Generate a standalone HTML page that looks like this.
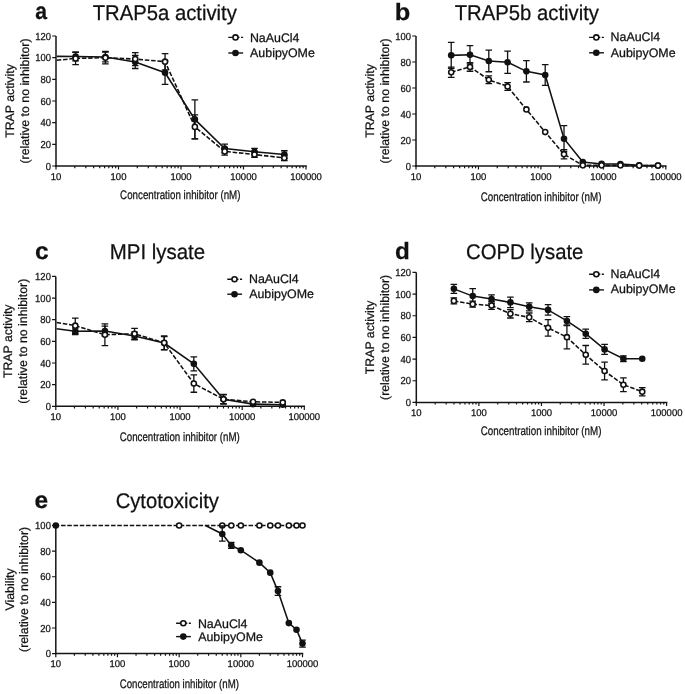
<!DOCTYPE html>
<html><head><meta charset="utf-8"><style>
html,body{margin:0;padding:0;background:#fff;}
svg{display:block;will-change:transform;}
text{text-rendering:geometricPrecision;font-family:"Liberation Sans", sans-serif;fill:#111;stroke:#111;stroke-width:0.25px;}
</style></head><body>
<svg width="685" height="694" viewBox="0 0 685 694">
<rect width="685" height="694" fill="#fff"/>
<text x="35.27" y="19.3" font-size="23.5" font-weight="bold" textLength="11.75" lengthAdjust="spacingAndGlyphs">a</text>
<text x="92.69" y="19.85" font-size="21.3" textLength="144.17" lengthAdjust="spacingAndGlyphs">TRAP5a activity</text>
<line x1="56" y1="36" x2="56" y2="166.75" stroke="#151515" stroke-width="1.5"/>
<line x1="55.25" y1="166" x2="306.75" y2="166" stroke="#151515" stroke-width="1.5"/>
<text transform="translate(51.1,169.6) scale(0.93,1)" font-size="10.2" text-anchor="end">0</text>
<text transform="translate(51.1,147.93) scale(0.93,1)" font-size="10.2" text-anchor="end">20</text>
<text transform="translate(51.1,126.27) scale(0.93,1)" font-size="10.2" text-anchor="end">40</text>
<text transform="translate(51.1,104.6) scale(0.93,1)" font-size="10.2" text-anchor="end">60</text>
<text transform="translate(51.1,82.93) scale(0.93,1)" font-size="10.2" text-anchor="end">80</text>
<text transform="translate(51.1,61.27) scale(0.93,1)" font-size="10.2" text-anchor="end">100</text>
<text transform="translate(51.1,39.6) scale(0.93,1)" font-size="10.2" text-anchor="end">120</text>
<text transform="translate(56,179.7) scale(0.97,1)" font-size="9.8" text-anchor="middle">10</text>
<text transform="translate(118.5,179.7) scale(0.97,1)" font-size="9.8" text-anchor="middle">100</text>
<text transform="translate(181,179.7) scale(0.97,1)" font-size="9.8" text-anchor="middle">1000</text>
<text transform="translate(243.5,179.7) scale(0.97,1)" font-size="9.8" text-anchor="middle">10000</text>
<text transform="translate(306,179.7) scale(0.97,1)" font-size="9.8" text-anchor="middle">100000</text>
<path d="M52.2 166H56 M52.2 144.33H56 M52.2 122.67H56 M52.2 101H56 M52.2 79.33H56 M52.2 57.67H56 M52.2 36H56 M56 166V169.6 M74.81 166V168.2 M85.82 166V168.2 M93.63 166V168.2 M99.69 166V168.2 M104.63 166V168.2 M108.82 166V168.2 M112.44 166V168.2 M115.64 166V168.2 M118.5 166V169.6 M137.31 166V168.2 M148.32 166V168.2 M156.13 166V168.2 M162.19 166V168.2 M167.13 166V168.2 M171.32 166V168.2 M174.94 166V168.2 M178.14 166V168.2 M181 166V169.6 M199.81 166V168.2 M210.82 166V168.2 M218.63 166V168.2 M224.69 166V168.2 M229.63 166V168.2 M233.82 166V168.2 M237.44 166V168.2 M240.64 166V168.2 M243.5 166V169.6 M262.31 166V168.2 M273.32 166V168.2 M281.13 166V168.2 M287.19 166V168.2 M292.13 166V168.2 M296.32 166V168.2 M299.94 166V168.2 M303.14 166V168.2 M306 166V169.6" stroke="#151515" stroke-width="1.2" fill="none"/>
<text transform="translate(13.6,101) rotate(-90)" font-size="12.3" text-anchor="middle">TRAP activity</text>
<text transform="translate(28.8,101) rotate(-90)" font-size="12.3" text-anchor="middle">(relative to no inhibitor)</text>
<text x="120.11" y="199.05" font-size="12.4" textLength="120.36" lengthAdjust="spacingAndGlyphs">Concentration inhibitor (nM)</text>
<path d="M228.3 37.4h14.8" stroke="#111" stroke-width="1.4" stroke-dasharray="4.6 2.4 4.2 1.5 2.2 10"/>
<circle cx="235.5" cy="37.4" r="2.55" fill="#fff" stroke="#111" stroke-width="1.55"/>
<path d="M228.3 53h14.8" stroke="#111" stroke-width="1.4"/>
<circle cx="235.5" cy="53" r="3.3" fill="#111"/>
<text x="249.91" y="41.7" font-size="12.4">NaAuCl4</text>
<text x="250.1" y="57.4" font-size="12.4">AubipyOMe</text>
<polyline points="56.8,56.37 75.59,56.58 105.41,57.02 135.23,62 165.05,72.72 194.87,119.42 224.69,148.56 254.51,151.7 284.33,154.52" fill="none" stroke="#111" stroke-width="1.55"/>
<polyline points="56.8,60.27 75.59,58.42 105.41,57.67 135.23,59.08 165.05,61.67 194.87,126.89 224.69,151.38 254.51,154.52 284.33,157.98" fill="none" stroke="#111" stroke-width="1.55" stroke-dasharray="4.5 1.8"/>
<path d="M75.59 52.25V60.92M72.29 52.25H78.89M72.29 60.92H78.89M105.41 52.14V61.89M102.11 52.14H108.71M102.11 61.89H108.71M135.23 55.5V68.5M131.93 55.5H138.53M131.93 68.5H138.53M165.05 61.02V84.42M161.75 61.02H168.35M161.75 84.42H168.35M194.87 99.92V138.92M191.57 99.92H198.17M191.57 138.92H198.17M224.69 144.22V152.89M221.39 144.22H227.99M221.39 152.89H227.99M254.51 148.45V154.95M251.21 148.45H257.81M251.21 154.95H257.81M284.33 150.73V158.31M281.03 150.73H287.63M281.03 158.31H287.63" stroke="#111" stroke-width="1.3" fill="none"/>
<path d="M75.59 52.14V64.71M72.29 52.14H78.89M72.29 64.71H78.89M105.41 51.49V63.84M102.11 51.49H108.71M102.11 63.84H108.71M135.23 52.58V65.58M131.93 52.58H138.53M131.93 65.58H138.53M165.05 53.55V69.8M161.75 53.55H168.35M161.75 69.8H168.35M194.87 114.97V138.81M191.57 114.97H198.17M191.57 138.81H198.17M224.69 147.58V155.17M221.39 147.58H227.99M221.39 155.17H227.99M254.51 151.81V157.23M251.21 151.81H257.81M251.21 157.23H257.81M284.33 155.27V160.69M281.03 155.27H287.63M281.03 160.69H287.63" stroke="#111" stroke-width="1.3" fill="none"/>
<circle cx="75.59" cy="56.58" r="3.3" fill="#111"/>
<circle cx="105.41" cy="57.02" r="3.3" fill="#111"/>
<circle cx="135.23" cy="62" r="3.3" fill="#111"/>
<circle cx="165.05" cy="72.72" r="3.3" fill="#111"/>
<circle cx="194.87" cy="119.42" r="3.3" fill="#111"/>
<circle cx="224.69" cy="148.56" r="3.3" fill="#111"/>
<circle cx="254.51" cy="151.7" r="3.3" fill="#111"/>
<circle cx="284.33" cy="154.52" r="3.3" fill="#111"/>
<circle cx="75.59" cy="58.42" r="2.55" fill="#fff" stroke="#111" stroke-width="1.55"/>
<circle cx="105.41" cy="57.67" r="2.55" fill="#fff" stroke="#111" stroke-width="1.55"/>
<circle cx="135.23" cy="59.08" r="2.55" fill="#fff" stroke="#111" stroke-width="1.55"/>
<circle cx="165.05" cy="61.67" r="2.55" fill="#fff" stroke="#111" stroke-width="1.55"/>
<circle cx="194.87" cy="126.89" r="2.55" fill="#fff" stroke="#111" stroke-width="1.55"/>
<circle cx="224.69" cy="151.38" r="2.55" fill="#fff" stroke="#111" stroke-width="1.55"/>
<circle cx="254.51" cy="154.52" r="2.55" fill="#fff" stroke="#111" stroke-width="1.55"/>
<circle cx="284.33" cy="157.98" r="2.55" fill="#fff" stroke="#111" stroke-width="1.55"/>
<text x="394.82" y="19.7" font-size="23.5" font-weight="bold" textLength="15.52" lengthAdjust="spacingAndGlyphs">b</text>
<text x="454.69" y="19.85" font-size="21.3" textLength="144.27" lengthAdjust="spacingAndGlyphs">TRAP5b activity</text>
<line x1="416" y1="36" x2="416" y2="166.75" stroke="#151515" stroke-width="1.5"/>
<line x1="415.25" y1="166" x2="666.55" y2="166" stroke="#151515" stroke-width="1.5"/>
<text transform="translate(411.1,169.6) scale(0.93,1)" font-size="10.2" text-anchor="end">0</text>
<text transform="translate(411.1,143.6) scale(0.93,1)" font-size="10.2" text-anchor="end">20</text>
<text transform="translate(411.1,117.6) scale(0.93,1)" font-size="10.2" text-anchor="end">40</text>
<text transform="translate(411.1,91.6) scale(0.93,1)" font-size="10.2" text-anchor="end">60</text>
<text transform="translate(411.1,65.6) scale(0.93,1)" font-size="10.2" text-anchor="end">80</text>
<text transform="translate(411.1,39.6) scale(0.93,1)" font-size="10.2" text-anchor="end">100</text>
<text transform="translate(416,179.7) scale(0.97,1)" font-size="9.8" text-anchor="middle">10</text>
<text transform="translate(478.45,179.7) scale(0.97,1)" font-size="9.8" text-anchor="middle">100</text>
<text transform="translate(540.9,179.7) scale(0.97,1)" font-size="9.8" text-anchor="middle">1000</text>
<text transform="translate(603.35,179.7) scale(0.97,1)" font-size="9.8" text-anchor="middle">10000</text>
<text transform="translate(665.8,179.7) scale(0.97,1)" font-size="9.8" text-anchor="middle">100000</text>
<path d="M412.2 166H416 M412.2 140H416 M412.2 114H416 M412.2 88H416 M412.2 62H416 M412.2 36H416 M416 166V169.6 M434.8 166V168.2 M445.8 166V168.2 M453.6 166V168.2 M459.65 166V168.2 M464.6 166V168.2 M468.78 166V168.2 M472.4 166V168.2 M475.59 166V168.2 M478.45 166V169.6 M497.25 166V168.2 M508.25 166V168.2 M516.05 166V168.2 M522.1 166V168.2 M527.05 166V168.2 M531.23 166V168.2 M534.85 166V168.2 M538.04 166V168.2 M540.9 166V169.6 M559.7 166V168.2 M570.7 166V168.2 M578.5 166V168.2 M584.55 166V168.2 M589.5 166V168.2 M593.68 166V168.2 M597.3 166V168.2 M600.49 166V168.2 M603.35 166V169.6 M622.15 166V168.2 M633.15 166V168.2 M640.95 166V168.2 M647 166V168.2 M651.95 166V168.2 M656.13 166V168.2 M659.75 166V168.2 M662.94 166V168.2 M665.8 166V169.6" stroke="#151515" stroke-width="1.2" fill="none"/>
<text transform="translate(373.8,101) rotate(-90)" font-size="12.3" text-anchor="middle">TRAP activity</text>
<text transform="translate(388.9,101) rotate(-90)" font-size="12.3" text-anchor="middle">(relative to no inhibitor)</text>
<text x="480.71" y="200.75" font-size="12.4" textLength="120.77" lengthAdjust="spacingAndGlyphs">Concentration inhibitor (nM)</text>
<path d="M589.1 37.4h14.8" stroke="#111" stroke-width="1.4" stroke-dasharray="4.6 2.4 4.2 1.5 2.2 10"/>
<circle cx="596.3" cy="37.4" r="2.55" fill="#fff" stroke="#111" stroke-width="1.55"/>
<path d="M589.1 52.8h14.8" stroke="#111" stroke-width="1.4"/>
<circle cx="596.3" cy="52.8" r="3.3" fill="#111"/>
<text x="610.61" y="41.2" font-size="12.4">NaAuCl4</text>
<text x="610.8" y="56.9" font-size="12.4">AubipyOMe</text>
<polyline points="451.21,55.37 470,54.72 488.8,60.96 507.6,62.26 526.4,71.36 545.2,75 564,138.7 582.8,162.1 601.6,163.92 620.4,164.05 639.2,165.35 658,165.61" fill="none" stroke="#111" stroke-width="1.55"/>
<polyline points="451.21,72.27 470,66.94 488.8,79.81 507.6,86.44 526.4,109.45 545.2,132.07 564,154.3 582.8,165.35 601.6,165.35 620.4,165.35 639.2,165.61 658,165.61" fill="none" stroke="#111" stroke-width="1.55" stroke-dasharray="4.5 1.8"/>
<path d="M451.21 42.37V68.37M447.91 42.37H454.51M447.91 68.37H454.51M470 45.62V63.82M466.7 45.62H473.3M466.7 63.82H473.3M488.8 50.17V71.75M485.5 50.17H492.1M485.5 71.75H492.1M507.6 51.21V73.31M504.3 51.21H510.9M504.3 73.31H510.9M526.4 60.7V82.02M523.1 60.7H529.7M523.1 82.02H529.7M545.2 64.6V85.4M541.9 64.6H548.5M541.9 85.4H548.5M564 125.7V151.7M560.7 125.7H567.3M560.7 151.7H567.3" stroke="#111" stroke-width="1.3" fill="none"/>
<path d="M451.21 67.07V77.47M447.91 67.07H454.51M447.91 77.47H454.51M470 62.65V71.23M466.7 62.65H473.3M466.7 71.23H473.3M488.8 75.91V83.71M485.5 75.91H492.1M485.5 83.71H492.1M507.6 82.54V90.34M504.3 82.54H510.9M504.3 90.34H510.9M564 149.75V158.85M560.7 149.75H567.3M560.7 158.85H567.3" stroke="#111" stroke-width="1.3" fill="none"/>
<circle cx="451.21" cy="55.37" r="3.3" fill="#111"/>
<circle cx="470" cy="54.72" r="3.3" fill="#111"/>
<circle cx="488.8" cy="60.96" r="3.3" fill="#111"/>
<circle cx="507.6" cy="62.26" r="3.3" fill="#111"/>
<circle cx="526.4" cy="71.36" r="3.3" fill="#111"/>
<circle cx="545.2" cy="75" r="3.3" fill="#111"/>
<circle cx="564" cy="138.7" r="3.3" fill="#111"/>
<circle cx="582.8" cy="162.1" r="3.3" fill="#111"/>
<circle cx="601.6" cy="163.92" r="3.3" fill="#111"/>
<circle cx="620.4" cy="164.05" r="3.3" fill="#111"/>
<circle cx="639.2" cy="165.35" r="3.3" fill="#111"/>
<circle cx="658" cy="165.61" r="3.3" fill="#111"/>
<circle cx="451.21" cy="72.27" r="2.55" fill="#fff" stroke="#111" stroke-width="1.55"/>
<circle cx="470" cy="66.94" r="2.55" fill="#fff" stroke="#111" stroke-width="1.55"/>
<circle cx="488.8" cy="79.81" r="2.55" fill="#fff" stroke="#111" stroke-width="1.55"/>
<circle cx="507.6" cy="86.44" r="2.55" fill="#fff" stroke="#111" stroke-width="1.55"/>
<circle cx="526.4" cy="109.45" r="2.55" fill="#fff" stroke="#111" stroke-width="1.55"/>
<circle cx="545.2" cy="132.07" r="2.55" fill="#fff" stroke="#111" stroke-width="1.55"/>
<circle cx="564" cy="154.3" r="2.55" fill="#fff" stroke="#111" stroke-width="1.55"/>
<circle cx="582.8" cy="165.35" r="2.55" fill="#fff" stroke="#111" stroke-width="1.55"/>
<circle cx="601.6" cy="165.35" r="2.55" fill="#fff" stroke="#111" stroke-width="1.55"/>
<circle cx="620.4" cy="165.35" r="2.55" fill="#fff" stroke="#111" stroke-width="1.55"/>
<circle cx="639.2" cy="165.61" r="2.55" fill="#fff" stroke="#111" stroke-width="1.55"/>
<circle cx="658" cy="165.61" r="2.55" fill="#fff" stroke="#111" stroke-width="1.55"/>
<text x="34.92" y="258.85" font-size="23.5" font-weight="bold" textLength="13.67" lengthAdjust="spacingAndGlyphs">c</text>
<text x="109.77" y="258.6" font-size="21.3" textLength="95.31" lengthAdjust="spacingAndGlyphs">MPI lysate</text>
<line x1="55.8" y1="276.4" x2="55.8" y2="407.05" stroke="#151515" stroke-width="1.5"/>
<line x1="55.05" y1="406.3" x2="305.05" y2="406.3" stroke="#151515" stroke-width="1.5"/>
<text transform="translate(50.9,409.9) scale(0.93,1)" font-size="10.2" text-anchor="end">0</text>
<text transform="translate(50.9,388.25) scale(0.93,1)" font-size="10.2" text-anchor="end">20</text>
<text transform="translate(50.9,366.6) scale(0.93,1)" font-size="10.2" text-anchor="end">40</text>
<text transform="translate(50.9,344.95) scale(0.93,1)" font-size="10.2" text-anchor="end">60</text>
<text transform="translate(50.9,323.3) scale(0.93,1)" font-size="10.2" text-anchor="end">80</text>
<text transform="translate(50.9,301.65) scale(0.93,1)" font-size="10.2" text-anchor="end">100</text>
<text transform="translate(50.9,280) scale(0.93,1)" font-size="10.2" text-anchor="end">120</text>
<text transform="translate(55.8,419.8) scale(0.97,1)" font-size="9.8" text-anchor="middle">10</text>
<text transform="translate(117.92,419.8) scale(0.97,1)" font-size="9.8" text-anchor="middle">100</text>
<text transform="translate(180.05,419.8) scale(0.97,1)" font-size="9.8" text-anchor="middle">1000</text>
<text transform="translate(242.18,419.8) scale(0.97,1)" font-size="9.8" text-anchor="middle">10000</text>
<text transform="translate(304.3,419.8) scale(0.97,1)" font-size="9.8" text-anchor="middle">100000</text>
<path d="M52 406.3H55.8 M52 384.65H55.8 M52 363H55.8 M52 341.35H55.8 M52 319.7H55.8 M52 298.05H55.8 M52 276.4H55.8 M55.8 406.3V409.9 M74.5 406.3V408.5 M85.44 406.3V408.5 M93.2 406.3V408.5 M99.22 406.3V408.5 M104.14 406.3V408.5 M108.3 406.3V408.5 M111.9 406.3V408.5 M115.08 406.3V408.5 M117.92 406.3V409.9 M136.63 406.3V408.5 M147.57 406.3V408.5 M155.33 406.3V408.5 M161.35 406.3V408.5 M166.27 406.3V408.5 M170.43 406.3V408.5 M174.03 406.3V408.5 M177.21 406.3V408.5 M180.05 406.3V409.9 M198.75 406.3V408.5 M209.69 406.3V408.5 M217.45 406.3V408.5 M223.47 406.3V408.5 M228.39 406.3V408.5 M232.55 406.3V408.5 M236.15 406.3V408.5 M239.33 406.3V408.5 M242.18 406.3V409.9 M260.88 406.3V408.5 M271.82 406.3V408.5 M279.58 406.3V408.5 M285.6 406.3V408.5 M290.52 406.3V408.5 M294.68 406.3V408.5 M298.28 406.3V408.5 M301.46 406.3V408.5 M304.3 406.3V409.9" stroke="#151515" stroke-width="1.2" fill="none"/>
<text transform="translate(11.8,341.3) rotate(-90)" font-size="12.3" text-anchor="middle">TRAP activity</text>
<text transform="translate(27,341.3) rotate(-90)" font-size="12.3" text-anchor="middle">(relative to no inhibitor)</text>
<text x="119.71" y="440.75" font-size="12.4" textLength="120.06" lengthAdjust="spacingAndGlyphs">Concentration inhibitor (nM)</text>
<path d="M227.3 279.2h14.8" stroke="#111" stroke-width="1.4" stroke-dasharray="4.6 2.4 4.2 1.5 2.2 10"/>
<circle cx="234.5" cy="279.2" r="2.55" fill="#fff" stroke="#111" stroke-width="1.55"/>
<path d="M227.3 294.2h14.8" stroke="#111" stroke-width="1.4"/>
<circle cx="234.5" cy="294.2" r="3.3" fill="#111"/>
<text x="249.01" y="282.6" font-size="12.4">NaAuCl4</text>
<text x="249.2" y="298" font-size="12.4">AubipyOMe</text>
<polyline points="56.6,328.79 75.27,331.28 104.91,331.07 134.55,335.94 164.19,343.08 193.83,363.87 223.47,399.26 253.11,404.13 282.76,404.68" fill="none" stroke="#111" stroke-width="1.55"/>
<polyline points="56.6,322.41 75.27,325.65 104.91,334.75 134.55,333.77 164.19,342.87 193.83,383.57 223.47,399.26 253.11,401.75 282.76,402.4" fill="none" stroke="#111" stroke-width="1.55" stroke-dasharray="4.5 1.8"/>
<path d="M75.27 328.04V334.53M71.97 328.04H78.57M71.97 334.53H78.57M104.91 326.19V335.94M101.61 326.19H108.21M101.61 335.94H108.21M134.55 332.15V339.73M131.25 332.15H137.85M131.25 339.73H137.85M164.19 336.59V349.58M160.89 336.59H167.49M160.89 349.58H167.49M193.83 356.83V370.9M190.53 356.83H197.13M190.53 370.9H197.13M223.47 394.93V403.59M220.17 394.93H226.77M220.17 403.59H226.77" stroke="#111" stroke-width="1.3" fill="none"/>
<path d="M75.27 318.08V333.23M71.97 318.08H78.57M71.97 333.23H78.57M104.91 323.92V345.57M101.61 323.92H108.21M101.61 345.57H108.21M134.55 328.36V339.19M131.25 328.36H137.85M131.25 339.19H137.85M164.19 335.83V349.9M160.89 335.83H167.49M160.89 349.9H167.49M193.83 374.91V392.23M190.53 374.91H197.13M190.53 392.23H197.13M223.47 394.39V404.13M220.17 394.39H226.77M220.17 404.13H226.77" stroke="#111" stroke-width="1.3" fill="none"/>
<circle cx="75.27" cy="331.28" r="3.3" fill="#111"/>
<circle cx="104.91" cy="331.07" r="3.3" fill="#111"/>
<circle cx="134.55" cy="335.94" r="3.3" fill="#111"/>
<circle cx="164.19" cy="343.08" r="3.3" fill="#111"/>
<circle cx="193.83" cy="363.87" r="3.3" fill="#111"/>
<circle cx="223.47" cy="399.26" r="3.3" fill="#111"/>
<circle cx="253.11" cy="404.13" r="3.3" fill="#111"/>
<circle cx="282.76" cy="404.68" r="3.3" fill="#111"/>
<circle cx="75.27" cy="325.65" r="2.55" fill="#fff" stroke="#111" stroke-width="1.55"/>
<circle cx="104.91" cy="334.75" r="2.55" fill="#fff" stroke="#111" stroke-width="1.55"/>
<circle cx="134.55" cy="333.77" r="2.55" fill="#fff" stroke="#111" stroke-width="1.55"/>
<circle cx="164.19" cy="342.87" r="2.55" fill="#fff" stroke="#111" stroke-width="1.55"/>
<circle cx="193.83" cy="383.57" r="2.55" fill="#fff" stroke="#111" stroke-width="1.55"/>
<circle cx="223.47" cy="399.26" r="2.55" fill="#fff" stroke="#111" stroke-width="1.55"/>
<circle cx="253.11" cy="401.75" r="2.55" fill="#fff" stroke="#111" stroke-width="1.55"/>
<circle cx="282.76" cy="402.4" r="2.55" fill="#fff" stroke="#111" stroke-width="1.55"/>
<text x="395.13" y="258.7" font-size="23.5" font-weight="bold" textLength="14.78" lengthAdjust="spacingAndGlyphs">d</text>
<text x="465.98" y="258.5" font-size="21.3" textLength="117.42" lengthAdjust="spacingAndGlyphs">COPD lysate</text>
<line x1="416.3" y1="272.4" x2="416.3" y2="403.15" stroke="#151515" stroke-width="1.5"/>
<line x1="415.55" y1="402.4" x2="667.35" y2="402.4" stroke="#151515" stroke-width="1.5"/>
<text transform="translate(411.1,406) scale(0.93,1)" font-size="10.2" text-anchor="end">0</text>
<text transform="translate(411.1,384.33) scale(0.93,1)" font-size="10.2" text-anchor="end">20</text>
<text transform="translate(411.1,362.67) scale(0.93,1)" font-size="10.2" text-anchor="end">40</text>
<text transform="translate(411.1,341) scale(0.93,1)" font-size="10.2" text-anchor="end">60</text>
<text transform="translate(411.1,319.33) scale(0.93,1)" font-size="10.2" text-anchor="end">80</text>
<text transform="translate(411.1,297.67) scale(0.93,1)" font-size="10.2" text-anchor="end">100</text>
<text transform="translate(411.1,276) scale(0.93,1)" font-size="10.2" text-anchor="end">120</text>
<text transform="translate(416.3,416.2) scale(0.97,1)" font-size="9.8" text-anchor="middle">10</text>
<text transform="translate(478.88,416.2) scale(0.97,1)" font-size="9.8" text-anchor="middle">100</text>
<text transform="translate(541.45,416.2) scale(0.97,1)" font-size="9.8" text-anchor="middle">1000</text>
<text transform="translate(604.03,416.2) scale(0.97,1)" font-size="9.8" text-anchor="middle">10000</text>
<text transform="translate(666.6,416.2) scale(0.97,1)" font-size="9.8" text-anchor="middle">100000</text>
<path d="M412.5 402.4H416.3 M412.5 380.73H416.3 M412.5 359.07H416.3 M412.5 337.4H416.3 M412.5 315.73H416.3 M412.5 294.07H416.3 M412.5 272.4H416.3 M416.3 402.4V406 M435.14 402.4V404.6 M446.16 402.4V404.6 M453.97 402.4V404.6 M460.04 402.4V404.6 M464.99 402.4V404.6 M469.18 402.4V404.6 M472.81 402.4V404.6 M476.01 402.4V404.6 M478.88 402.4V406 M497.71 402.4V404.6 M508.73 402.4V404.6 M516.55 402.4V404.6 M522.61 402.4V404.6 M527.57 402.4V404.6 M531.76 402.4V404.6 M535.39 402.4V404.6 M538.59 402.4V404.6 M541.45 402.4V406 M560.29 402.4V404.6 M571.31 402.4V404.6 M579.12 402.4V404.6 M585.19 402.4V404.6 M590.14 402.4V404.6 M594.33 402.4V404.6 M597.96 402.4V404.6 M601.16 402.4V404.6 M604.03 402.4V406 M622.86 402.4V404.6 M633.88 402.4V404.6 M641.7 402.4V404.6 M647.76 402.4V404.6 M652.72 402.4V404.6 M656.91 402.4V404.6 M660.54 402.4V404.6 M663.74 402.4V404.6 M666.6 402.4V406" stroke="#151515" stroke-width="1.2" fill="none"/>
<text transform="translate(373.6,337.4) rotate(-90)" font-size="12.3" text-anchor="middle">TRAP activity</text>
<text transform="translate(388.7,337.4) rotate(-90)" font-size="12.3" text-anchor="middle">(relative to no inhibitor)</text>
<text x="480.71" y="435.15" font-size="12.4" textLength="120.77" lengthAdjust="spacingAndGlyphs">Concentration inhibitor (nM)</text>
<path d="M589.1 274.2h14.8" stroke="#111" stroke-width="1.4" stroke-dasharray="4.6 2.4 4.2 1.5 2.2 10"/>
<circle cx="596.3" cy="274.2" r="2.55" fill="#fff" stroke="#111" stroke-width="1.55"/>
<path d="M589.1 289.9h14.8" stroke="#111" stroke-width="1.4"/>
<circle cx="596.3" cy="289.9" r="3.3" fill="#111"/>
<text x="610.61" y="277.9" font-size="12.4">NaAuCl4</text>
<text x="610.8" y="293.4" font-size="12.4">AubipyOMe</text>
<polyline points="453.88,288.87 472.72,296.12 491.55,299.05 510.39,302.41 529.23,306.85 548.07,309.88 566.9,320.93 585.74,333.72 604.58,349.42 623.41,358.74 642.25,358.74" fill="none" stroke="#111" stroke-width="1.55"/>
<polyline points="453.88,300.89 472.72,304.14 491.55,305.55 510.39,313.78 529.23,317.36 548.07,327.87 566.9,337.18 585.74,354.84 604.58,371.09 623.41,384.74 642.25,391.67" fill="none" stroke="#111" stroke-width="1.55" stroke-dasharray="4.5 1.8"/>
<path d="M453.88 284.32V293.42M450.58 284.32H457.18M450.58 293.42H457.18M472.72 288.54V303.71M469.42 288.54H476.02M469.42 303.71H476.02M491.55 294.82V303.27M488.25 294.82H494.85M488.25 303.27H494.85M510.39 297.1V307.72M507.09 297.1H513.69M507.09 307.72H513.69M529.23 302.84V310.86M525.93 302.84H532.53M525.93 310.86H532.53M548.07 304.57V315.19M544.77 304.57H551.37M544.77 315.19H551.37M566.9 316.71V325.16M563.6 316.71H570.2M563.6 325.16H570.2M585.74 329.06V338.38M582.44 329.06H589.04M582.44 338.38H589.04M604.58 344.44V354.41M601.28 344.44H607.88M601.28 354.41H607.88M623.41 355.93V361.56M620.11 355.93H626.71M620.11 361.56H626.71" stroke="#111" stroke-width="1.3" fill="none"/>
<path d="M453.88 297.97V303.82M450.58 297.97H457.18M450.58 303.82H457.18M472.72 301.11V307.18M469.42 301.11H476.02M469.42 307.18H476.02M491.55 301.65V309.45M488.25 301.65H494.85M488.25 309.45H494.85M510.39 309.56V318.01M507.09 309.56H513.69M507.09 318.01H513.69M529.23 313.02V321.69M525.93 313.02H532.53M525.93 321.69H532.53M548.07 319.63V336.1M544.77 319.63H551.37M544.77 336.1H551.37M566.9 325.48V348.88M563.6 325.48H570.2M563.6 348.88H570.2M585.74 345.52V364.16M582.44 345.52H589.04M582.44 364.16H589.04M604.58 362.21V379.97M601.28 362.21H607.88M601.28 379.97H607.88M623.41 377.81V391.67M620.11 377.81H626.71M620.11 391.67H626.71M642.25 387.56V395.79M638.95 387.56H645.55M638.95 395.79H645.55" stroke="#111" stroke-width="1.3" fill="none"/>
<circle cx="453.88" cy="288.87" r="3.3" fill="#111"/>
<circle cx="472.72" cy="296.12" r="3.3" fill="#111"/>
<circle cx="491.55" cy="299.05" r="3.3" fill="#111"/>
<circle cx="510.39" cy="302.41" r="3.3" fill="#111"/>
<circle cx="529.23" cy="306.85" r="3.3" fill="#111"/>
<circle cx="548.07" cy="309.88" r="3.3" fill="#111"/>
<circle cx="566.9" cy="320.93" r="3.3" fill="#111"/>
<circle cx="585.74" cy="333.72" r="3.3" fill="#111"/>
<circle cx="604.58" cy="349.42" r="3.3" fill="#111"/>
<circle cx="623.41" cy="358.74" r="3.3" fill="#111"/>
<circle cx="642.25" cy="358.74" r="3.3" fill="#111"/>
<circle cx="453.88" cy="300.89" r="2.55" fill="#fff" stroke="#111" stroke-width="1.55"/>
<circle cx="472.72" cy="304.14" r="2.55" fill="#fff" stroke="#111" stroke-width="1.55"/>
<circle cx="491.55" cy="305.55" r="2.55" fill="#fff" stroke="#111" stroke-width="1.55"/>
<circle cx="510.39" cy="313.78" r="2.55" fill="#fff" stroke="#111" stroke-width="1.55"/>
<circle cx="529.23" cy="317.36" r="2.55" fill="#fff" stroke="#111" stroke-width="1.55"/>
<circle cx="548.07" cy="327.87" r="2.55" fill="#fff" stroke="#111" stroke-width="1.55"/>
<circle cx="566.9" cy="337.18" r="2.55" fill="#fff" stroke="#111" stroke-width="1.55"/>
<circle cx="585.74" cy="354.84" r="2.55" fill="#fff" stroke="#111" stroke-width="1.55"/>
<circle cx="604.58" cy="371.09" r="2.55" fill="#fff" stroke="#111" stroke-width="1.55"/>
<circle cx="623.41" cy="384.74" r="2.55" fill="#fff" stroke="#111" stroke-width="1.55"/>
<circle cx="642.25" cy="391.67" r="2.55" fill="#fff" stroke="#111" stroke-width="1.55"/>
<text x="34.52" y="507.8" font-size="23.5" font-weight="bold" textLength="13.67" lengthAdjust="spacingAndGlyphs">e</text>
<text x="115.69" y="507.6" font-size="21.3" textLength="103.16" lengthAdjust="spacingAndGlyphs">Cytotoxicity</text>
<line x1="55.8" y1="525.5" x2="55.8" y2="654.35" stroke="#151515" stroke-width="1.5"/>
<line x1="55.05" y1="653.6" x2="303.25" y2="653.6" stroke="#151515" stroke-width="1.5"/>
<text transform="translate(50.9,657.2) scale(0.93,1)" font-size="10.2" text-anchor="end">0</text>
<text transform="translate(50.9,631.58) scale(0.93,1)" font-size="10.2" text-anchor="end">20</text>
<text transform="translate(50.9,605.96) scale(0.93,1)" font-size="10.2" text-anchor="end">40</text>
<text transform="translate(50.9,580.34) scale(0.93,1)" font-size="10.2" text-anchor="end">60</text>
<text transform="translate(50.9,554.72) scale(0.93,1)" font-size="10.2" text-anchor="end">80</text>
<text transform="translate(50.9,529.1) scale(0.93,1)" font-size="10.2" text-anchor="end">100</text>
<text transform="translate(55.8,667.3) scale(0.97,1)" font-size="9.8" text-anchor="middle">10</text>
<text transform="translate(117.47,667.3) scale(0.97,1)" font-size="9.8" text-anchor="middle">100</text>
<text transform="translate(179.15,667.3) scale(0.97,1)" font-size="9.8" text-anchor="middle">1000</text>
<text transform="translate(240.82,667.3) scale(0.97,1)" font-size="9.8" text-anchor="middle">10000</text>
<text transform="translate(302.5,667.3) scale(0.97,1)" font-size="9.8" text-anchor="middle">100000</text>
<path d="M52 653.6H55.8 M52 627.98H55.8 M52 602.36H55.8 M52 576.74H55.8 M52 551.12H55.8 M52 525.5H55.8 M55.8 653.6V657.2 M74.37 653.6V655.8 M85.23 653.6V655.8 M92.93 653.6V655.8 M98.91 653.6V655.8 M103.79 653.6V655.8 M107.92 653.6V655.8 M111.5 653.6V655.8 M114.65 653.6V655.8 M117.47 653.6V657.2 M136.04 653.6V655.8 M146.9 653.6V655.8 M154.61 653.6V655.8 M160.58 653.6V655.8 M165.47 653.6V655.8 M169.6 653.6V655.8 M173.17 653.6V655.8 M176.33 653.6V655.8 M179.15 653.6V657.2 M197.72 653.6V655.8 M208.58 653.6V655.8 M216.28 653.6V655.8 M222.26 653.6V655.8 M227.14 653.6V655.8 M231.27 653.6V655.8 M234.85 653.6V655.8 M238 653.6V655.8 M240.82 653.6V657.2 M259.39 653.6V655.8 M270.25 653.6V655.8 M277.96 653.6V655.8 M283.93 653.6V655.8 M288.82 653.6V655.8 M292.95 653.6V655.8 M296.52 653.6V655.8 M299.68 653.6V655.8 M302.5 653.6V657.2" stroke="#151515" stroke-width="1.2" fill="none"/>
<text transform="translate(14,589.4) rotate(-90)" font-size="12.3" text-anchor="middle">Viability</text>
<text transform="translate(28.4,589.4) rotate(-90)" font-size="12.3" text-anchor="middle">(relative to no inhibitor)</text>
<text x="119.72" y="688.15" font-size="12.4" textLength="119.25" lengthAdjust="spacingAndGlyphs">Concentration inhibitor (nM)</text>
<path d="M176.1 623.2h14.8" stroke="#111" stroke-width="1.4" stroke-dasharray="4.6 2.4 4.2 1.5 2.2 10"/>
<circle cx="183.3" cy="623.2" r="2.55" fill="#fff" stroke="#111" stroke-width="1.55"/>
<path d="M176.1 636.6h14.8" stroke="#111" stroke-width="1.4"/>
<circle cx="183.3" cy="636.6" r="3.3" fill="#111"/>
<text x="197.91" y="627.8" font-size="12.4">NaAuCl4</text>
<text x="198.2" y="640.9" font-size="12.4">AubipyOMe</text>
<line x1="55.8" y1="525.5" x2="302.5" y2="525.5" stroke="#111" stroke-width="1.55" stroke-dasharray="4.5 1.75" stroke-dashoffset="1"/>
<polyline points="205.5,525.5 222.26,533.95 231.27,545.36 240.82,550.22 259.39,562.65 270.25,572.64 277.96,591.09 288.82,623.11 296.52,629.77 302.5,643.61" fill="none" stroke="#111" stroke-width="1.55"/>
<circle cx="179.15" cy="525.5" r="2.55" fill="#fff" stroke="#111" stroke-width="1.55"/>
<circle cx="222.26" cy="525.5" r="2.55" fill="#fff" stroke="#111" stroke-width="1.55"/>
<circle cx="231.27" cy="525.5" r="2.55" fill="#fff" stroke="#111" stroke-width="1.55"/>
<circle cx="240.82" cy="525.5" r="2.55" fill="#fff" stroke="#111" stroke-width="1.55"/>
<circle cx="259.39" cy="525.5" r="2.55" fill="#fff" stroke="#111" stroke-width="1.55"/>
<circle cx="270.25" cy="525.5" r="2.55" fill="#fff" stroke="#111" stroke-width="1.55"/>
<circle cx="277.96" cy="525.5" r="2.55" fill="#fff" stroke="#111" stroke-width="1.55"/>
<circle cx="288.82" cy="525.5" r="2.55" fill="#fff" stroke="#111" stroke-width="1.55"/>
<circle cx="296.52" cy="525.5" r="2.55" fill="#fff" stroke="#111" stroke-width="1.55"/>
<circle cx="302.5" cy="525.5" r="2.55" fill="#fff" stroke="#111" stroke-width="1.55"/>
<path d="M222.26 526.01V541.13M218.96 526.01H225.56M218.96 541.13H225.56M231.27 542.41V548.3M227.97 542.41H234.57M227.97 548.3H234.57M277.96 586.73V595.44M274.66 586.73H281.26M274.66 595.44H281.26M302.5 640.15V647.07M299.2 640.15H305.8M299.2 647.07H305.8" stroke="#111" stroke-width="1.3" fill="none"/>
<circle cx="55.8" cy="525.5" r="3.3" fill="#111"/>
<circle cx="222.26" cy="533.95" r="3.3" fill="#111"/>
<circle cx="231.27" cy="545.36" r="3.3" fill="#111"/>
<circle cx="240.82" cy="550.22" r="3.3" fill="#111"/>
<circle cx="259.39" cy="562.65" r="3.3" fill="#111"/>
<circle cx="270.25" cy="572.64" r="3.3" fill="#111"/>
<circle cx="277.96" cy="591.09" r="3.3" fill="#111"/>
<circle cx="288.82" cy="623.11" r="3.3" fill="#111"/>
<circle cx="296.52" cy="629.77" r="3.3" fill="#111"/>
<circle cx="302.5" cy="643.61" r="3.3" fill="#111"/>
</svg>
</body></html>
